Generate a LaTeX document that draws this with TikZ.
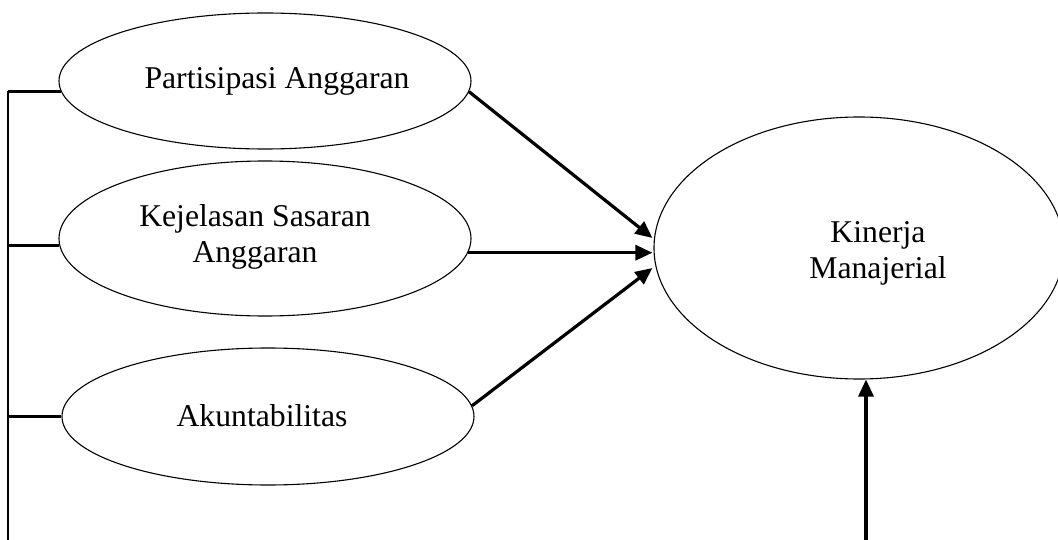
\documentclass[tikz,border=0pt]{standalone}
\usepackage{fontspec}
\setmainfont{Liberation Serif}
\usetikzlibrary{shapes.geometric,arrows.meta,calc}
\begin{document}
\begin{tikzpicture}[x=1pt,y=-1pt,
  oval/.style={draw=black,line width=1.1pt,shape=ellipse,inner sep=0pt,minimum width=412pt},
  lbl/.style={font=\fontsize{31.7}{36}\selectfont,align=center,inner sep=0pt},
  conn/.style={draw=black,line width=3.2pt},
  arr/.style={conn,-{Triangle[length=17pt,width=15pt]}},
  tree/.style={draw=black,line width=2.6pt}]
\useasboundingbox (0,0) rectangle (1058,540);
\node[oval,minimum height=136pt] (E1) at (265,81) {};
\node[oval,minimum height=155pt] (E2) at (265,238.5) {};
\node[oval,minimum height=137pt] (E3) at (268,416.5) {};
\node[oval,minimum width=410pt,minimum height=262pt] (K) at (859,248) {};
\node[lbl] (T1) at (277,81) {Partisipasi Anggaran};
\node[lbl] (T2) at (255,237) {Kejelasan Sasaran\\Anggaran};
\node[lbl] (T3) at (262,416) {Akuntabilitas};
\node[lbl] (TK) at (878,253) {Kinerja\\Manajerial};
\coordinate (top) at (8,91);
\coordinate (bot) at (8,541);
\coordinate (up) at (866,541);
\draw[tree] (top) -- (bot);
\draw[tree] (E1.183 -| top) -- (E1.183);
\draw[tree] (E2.182 -| top) -- (E2.182);
\draw[tree] (E3.180 -| top) -- (E3.180);
\draw[arr] (E1.-3.4) -- ($(K.west)+(-1,-10)$);
\draw[arr] (E2.-4.6) -- ($(E2.-4.6 -| K.west)+(-1,0)$);
\draw[arr] (E3.3) -- ($(K.west)+(-1,20)$);
\draw[arr] (up) -- (up |- K.south);
\end{tikzpicture}
\end{document}
